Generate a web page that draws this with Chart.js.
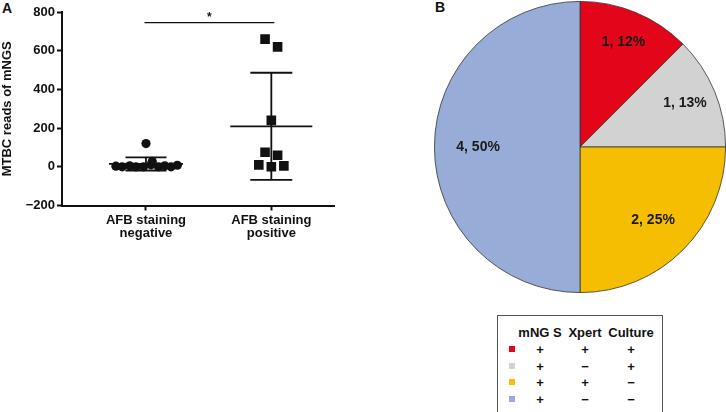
<!DOCTYPE html>
<html>
<head>
<meta charset="utf-8">
<script src="https://cdn.jsdelivr.net/npm/chart.js@4/dist/chart.umd.min.js"></script>
<style>
  html, body { margin:0; padding:0; background:#fff; }
  body { width:726px; height:412px; position:relative; overflow:hidden; font-family:"Liberation Sans", Arial, sans-serif; }
  canvas { position:absolute; }
  .lbl { position:absolute; font-weight:bold; color:#111; font-size:13px; transform:translate(-50%,-50%); white-space:nowrap; }
  #legendBox { position:absolute; left:497px; top:315px; width:166px; height:120px; border:1px solid #555; box-sizing:border-box; }
  .sq { position:absolute; width:6px; height:6px; transform:translate(-50%,-50%); }
</style>
</head>
<body>
<div class="lbl" style="left:7px;top:8px;font-size:14px;">A</div>
<div class="lbl" style="left:440px;top:7px;font-size:14px;">B</div>
<canvas id="scatter" width="360" height="300" style="left:0;top:0;width:360px;height:300px;"></canvas>
<canvas id="pie" width="292" height="292" style="left:434px;top:1px;width:292px;height:292px;"></canvas>
<div id="legendBox"></div>
<div id="legendText"></div>
<script>
// ---------------- Data (panel A) ----------------
const groupLabels = [["AFB staining","negative"],["AFB staining","positive"]];
const negValues = [3, 0, 5, 0, 0, 120, 10, 28, 0, 5, 0, 8];
const negJitter = [-0.24, -0.19, -0.13, -0.08, -0.02, 0.0, 0.04, 0.05, 0.10, 0.15, 0.20, 0.25];
const posValues = [660, 620, 240, 75, 60, 10, 0, 5];
const posJitter = [-0.05, 0.05, 0.0, -0.05, 0.05, -0.10, 0.0, 0.10];
const groupMeans = [15, 209];
const groupSD = [34, 277];
const yTicks = [-200, 0, 200, 400, 600, 800];
const sigY = 745;
const sigText = "*";

// ---------------- Data (panel B) ----------------
const pieCounts = [1, 1, 2, 4];
const piePercents = [12, 13, 25, 50];
const pieColors = ["#e3061a", "#d2d2d2", "#f6be00", "#97add7"];
const legendHeaders = ["mNG S", "Xpert", "Culture"];
const legendMNGS = ["+", "+", "+", "+"];
const legendXpert = ["+", "\u2212", "+", "\u2212"];
const legendCulture = ["+", "+", "\u2212", "\u2212"];

const FONT = "Liberation Sans";

// ---------------- Panel A ----------------
const meanPlugin = {
  id: 'meanSD',
  afterDatasetsDraw(chart) {
    const {ctx, scales:{x, y}} = chart;
    ctx.save();
    ctx.strokeStyle = '#111';
    ctx.lineWidth = 1.8;
    const meanHalf = [37, 41];
    const capHalf = [20.5, 21];
    groupMeans.forEach((m, i) => {
      const cx = x.getPixelForValue(i + 1);
      const my = y.getPixelForValue(m);
      const top = y.getPixelForValue(m + groupSD[i]);
      const bot = y.getPixelForValue(m - groupSD[i]);
      ctx.beginPath();
      ctx.moveTo(cx - meanHalf[i], my); ctx.lineTo(cx + meanHalf[i], my);
      ctx.moveTo(cx, top); ctx.lineTo(cx, bot);
      ctx.moveTo(cx - capHalf[i], top); ctx.lineTo(cx + capHalf[i], top);
      ctx.moveTo(cx - capHalf[i], bot); ctx.lineTo(cx + capHalf[i], bot);
      ctx.stroke();
    });
    // significance bar
    const sy = y.getPixelForValue(sigY);
    const x1 = x.getPixelForValue(1) - 1.5, x2 = x.getPixelForValue(2) + 3;
    ctx.lineWidth = 1.3;
    ctx.beginPath(); ctx.moveTo(x1, sy); ctx.lineTo(x2, sy); ctx.stroke();
    ctx.fillStyle = '#111';
    ctx.font = 'bold 12px "' + FONT + '"';
    ctx.textAlign = 'center'; ctx.textBaseline = 'middle';
    ctx.fillText(sigText, (x1 + x2) / 2, sy - 5);
    ctx.restore();
  }
};

new Chart(document.getElementById('scatter'), {
  type: 'scatter',
  data: {
    datasets: [
      {
        data: negValues.map((v, i) => ({x: 1 + negJitter[i], y: v})),
        pointStyle: 'circle', pointRadius: 4.6, pointHoverRadius: 4.6,
        backgroundColor: '#111', borderColor: '#111', borderWidth: 0
      },
      {
        data: posValues.map((v, i) => ({x: 2 + posJitter[i], y: v})),
        pointStyle: 'rect', pointRadius: 6.8, pointHoverRadius: 6.8,
        backgroundColor: '#111', borderColor: '#111', borderWidth: 0
      }
    ]
  },
  options: {
    responsive: false,
    animation: false,
    events: [],
    layout: { padding: { top: 12, right: 26, left: 0, bottom: 0 } },
    plugins: { legend: { display: false }, tooltip: { enabled: false } },
    scales: {
      x: {
        type: 'linear', min: 0.33, max: 2.5,
        afterBuildTicks: s => { s.ticks = [{value: 1}, {value: 2}]; },
        afterFit: s => { s.height = 94.5; },
        ticks: {
          callback: (v) => groupLabels[Math.round(v) - 1],
          color: '#111', font: { family: FONT, size: 13, weight: 'bold', lineHeight: 1.0 },
          padding: 3, maxRotation: 0, autoSkip: false
        },
        grid: { drawOnChartArea: false, drawTicks: true, tickLength: 5, tickColor: '#111', tickWidth: 2 },
        border: { color: '#111', width: 2 }
      },
      y: {
        min: -200, max: 800,
        afterBuildTicks: s => { s.ticks = yTicks.map(v => ({value: v})); },
        afterFit: s => { s.width = 62; },
        ticks: {
          callback: v => (v < 0 ? '\u2212' + Math.abs(v) : String(v)),
          color: '#111', font: { family: FONT, size: 13, weight: 'bold' }, padding: 2
        },
        grid: { drawOnChartArea: false, drawTicks: true, tickLength: 5, tickColor: '#111', tickWidth: 2 },
        border: { color: '#111', width: 2 },
        title: { display: true, text: 'MTBC reads of mNGS', color: '#111',
                 font: { family: FONT, size: 13, weight: 'bold' }, padding: { top: 0, bottom: 0 } }
      }
    }
  },
  plugins: [meanPlugin]
});

// ---------------- Panel B ----------------
const pieLabelPlugin = {
  id: 'pieLabels',
  afterDatasetsDraw(chart) {
    const {ctx} = chart;
    const meta = chart.getDatasetMeta(0);
    const fracs = [0.78, 0.78, 0.71, 0.70];
    ctx.save();
    ctx.fillStyle = '#1a1a1a';
    ctx.font = 'bold 14px "' + FONT + '"';
    ctx.textAlign = 'center'; ctx.textBaseline = 'middle';
    meta.data.forEach((arc, i) => {
      const p = arc.getProps(['x', 'y', 'startAngle', 'endAngle', 'outerRadius'], true);
      const mid = (p.startAngle + p.endAngle) / 2;
      const r = p.outerRadius * fracs[i];
      ctx.fillText(pieCounts[i] + ', ' + piePercents[i] + '%', p.x + Math.cos(mid) * r, p.y + Math.sin(mid) * r);
    });
    ctx.restore();
  }
};

new Chart(document.getElementById('pie'), {
  type: 'pie',
  data: {
    labels: ['mNGS+ Xpert+ Culture+', 'mNGS+ Xpert\u2212 Culture+', 'mNGS+ Xpert+ Culture\u2212', 'mNGS+ Xpert\u2212 Culture\u2212'],
    datasets: [{ data: pieCounts, backgroundColor: pieColors, borderColor: '#333', borderWidth: 0.8 }]
  },
  options: {
    responsive: false, animation: false, events: [],
    layout: { padding: 0 },
    plugins: { legend: { display: false }, tooltip: { enabled: false } }
  },
  plugins: [pieLabelPlugin]
});

// ---------------- Legend table ----------------
(function () {
  const holder = document.getElementById('legendText');
  const colX = [540, 585, 631];
  const headerY = 332;
  const rowY = [349, 365.5, 382, 398.5];
  let html = '';
  legendHeaders.forEach((h, i) => {
    html += '<div class="lbl" style="left:' + colX[i] + 'px;top:' + headerY + 'px;">' + h + '</div>';
  });
  const cols = [legendMNGS, legendXpert, legendCulture];
  pieColors.forEach((c, r) => {
    html += '<div class="sq" style="left:512px;top:' + rowY[r] + 'px;background:' + c + ';"></div>';
    cols.forEach((col, ci) => {
      html += '<div class="lbl" style="left:' + colX[ci] + 'px;top:' + rowY[r] + 'px;">' + col[r] + '</div>';
    });
  });
  holder.innerHTML = html;
})();
</script>
</body>
</html>
